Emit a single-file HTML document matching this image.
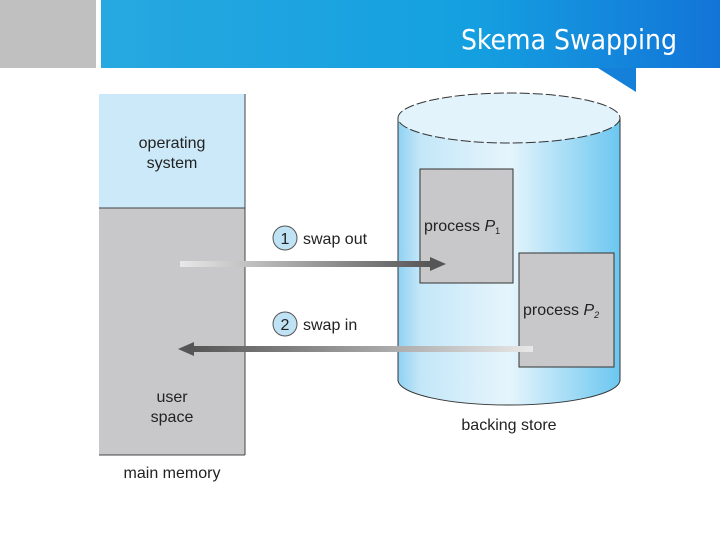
<!DOCTYPE html>
<html><head><style>body{margin:0;width:720px;height:540px;overflow:hidden;background:#fff}</style></head><body>
<svg width="720" height="540" xmlns="http://www.w3.org/2000/svg" font-family="Liberation Sans, sans-serif">
<defs>
<linearGradient id="ban" x1="0" x2="1"><stop offset="0" stop-color="#27a8e0"/><stop offset="0.6" stop-color="#14a0e0"/><stop offset="1" stop-color="#1374d8"/></linearGradient>
<linearGradient id="cyl" x1="0" x2="1"><stop offset="0" stop-color="#8fd1f3"/><stop offset="0.1" stop-color="#c4e7f8"/><stop offset="0.5" stop-color="#e6f5fc"/><stop offset="1" stop-color="#6cc7f0"/></linearGradient>
<linearGradient id="a1" x1="0" x2="1"><stop offset="0" stop-color="#e8e8e8"/><stop offset="1" stop-color="#555"/></linearGradient>
<linearGradient id="a2" x1="0" x2="1"><stop offset="0" stop-color="#555"/><stop offset="1" stop-color="#e8e8e8"/></linearGradient>
</defs>
<rect x="0" y="0" width="96" height="68" fill="#c0c0c0"/>
<rect x="101" y="0" width="619" height="68" fill="url(#ban)"/>
<polygon points="598,68 636,92 636,68" fill="#1580da"/>
<text x="677" y="49" text-anchor="end" fill="#fff" font-size="28" font-family="DejaVu Sans Condensed, Liberation Sans, sans-serif">Skema Swapping</text>
<rect x="99" y="94" width="146" height="114" fill="#cbe9f8"/>
<rect x="99" y="208" width="146" height="247" fill="#c8c8ca"/>
<line x1="245" y1="94" x2="245" y2="455" stroke="#444"/>
<line x1="99" y1="208" x2="245" y2="208" stroke="#444"/>
<line x1="99" y1="455" x2="245" y2="455" stroke="#444"/>
<text x="172" y="148" text-anchor="middle" font-size="16" fill="#222">operating</text>
<text x="172" y="168" text-anchor="middle" font-size="16" fill="#222">system</text>
<text x="172" y="402" text-anchor="middle" font-size="16" fill="#222">user</text>
<text x="172" y="422" text-anchor="middle" font-size="16" fill="#222">space</text>
<text x="172" y="478" text-anchor="middle" font-size="16" fill="#222">main memory</text>
<path d="M398,118 L398,380 A111,25 0 0 0 620,380 L620,118 Z" fill="url(#cyl)" stroke="#333"/>
<ellipse cx="509" cy="118" rx="111" ry="25" fill="#e2f3fb" stroke="#333" stroke-dasharray="10,3"/>
<text x="509" y="430" text-anchor="middle" font-size="16" fill="#222">backing store</text>
<rect x="420" y="169" width="93" height="114" fill="#c8c8ca" stroke="#333"/>
<rect x="519" y="253" width="95" height="114" fill="#c8c8ca" stroke="#333"/>
<text x="424" y="231" font-size="16" fill="#222">process <tspan font-style="italic">P</tspan><tspan font-size="9" dy="3">1</tspan></text>
<text x="523" y="315" font-size="16" fill="#222">process <tspan font-style="italic">P</tspan><tspan font-size="9" dy="3" font-style="italic">2</tspan></text>
<rect x="180" y="261" width="252" height="6" fill="url(#a1)"/>
<polygon points="430,257 446,264 430,271" fill="#555"/>
<rect x="192" y="346" width="341" height="6" fill="url(#a2)"/>
<polygon points="194,342 178,349 194,356" fill="#555"/>
<circle cx="285" cy="238" r="12" fill="#bfe3f5" stroke="#555"/>
<text x="285" y="244" text-anchor="middle" font-size="16" fill="#222">1</text>
<text x="303" y="244" font-size="16" fill="#222">swap out</text>
<circle cx="285" cy="324" r="12" fill="#bfe3f5" stroke="#555"/>
<text x="285" y="330" text-anchor="middle" font-size="16" fill="#222">2</text>
<text x="303" y="330" font-size="16" fill="#222">swap in</text>
</svg>
</body></html>
